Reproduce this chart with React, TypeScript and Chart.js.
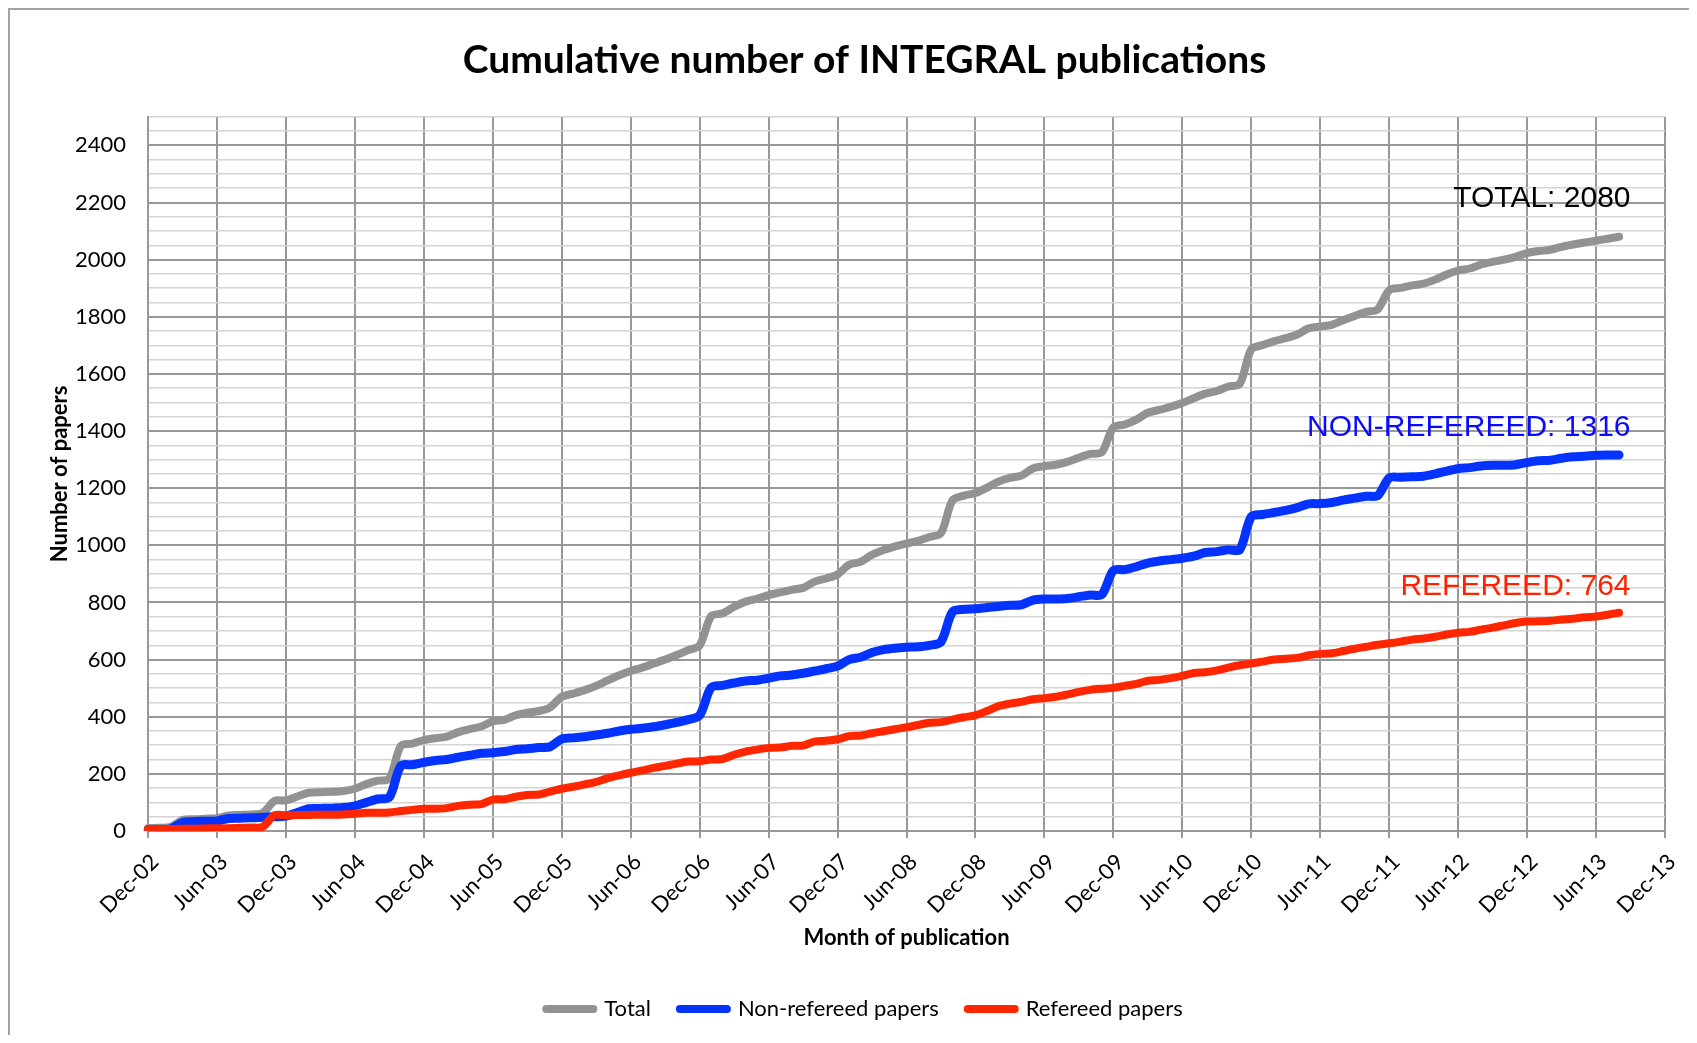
import { useEffect, useRef } from "react";
import { Chart, registerables } from "chart.js";

Chart.register(...registerables);

// Monthly categories, Dec-02 .. Dec-13
const MONTHS = [
  "Dec-02",
  "Jan-03", "Feb-03", "Mar-03", "Apr-03", "May-03", "Jun-03", "Jul-03", "Aug-03", "Sep-03", "Oct-03", "Nov-03", "Dec-03",
  "Jan-04", "Feb-04", "Mar-04", "Apr-04", "May-04", "Jun-04", "Jul-04", "Aug-04", "Sep-04", "Oct-04", "Nov-04", "Dec-04",
  "Jan-05", "Feb-05", "Mar-05", "Apr-05", "May-05", "Jun-05", "Jul-05", "Aug-05", "Sep-05", "Oct-05", "Nov-05", "Dec-05",
  "Jan-06", "Feb-06", "Mar-06", "Apr-06", "May-06", "Jun-06", "Jul-06", "Aug-06", "Sep-06", "Oct-06", "Nov-06", "Dec-06",
  "Jan-07", "Feb-07", "Mar-07", "Apr-07", "May-07", "Jun-07", "Jul-07", "Aug-07", "Sep-07", "Oct-07", "Nov-07", "Dec-07",
  "Jan-08", "Feb-08", "Mar-08", "Apr-08", "May-08", "Jun-08", "Jul-08", "Aug-08", "Sep-08", "Oct-08", "Nov-08", "Dec-08",
  "Jan-09", "Feb-09", "Mar-09", "Apr-09", "May-09", "Jun-09", "Jul-09", "Aug-09", "Sep-09", "Oct-09", "Nov-09", "Dec-09",
  "Jan-10", "Feb-10", "Mar-10", "Apr-10", "May-10", "Jun-10", "Jul-10", "Aug-10", "Sep-10", "Oct-10", "Nov-10", "Dec-10",
  "Jan-11", "Feb-11", "Mar-11", "Apr-11", "May-11", "Jun-11", "Jul-11", "Aug-11", "Sep-11", "Oct-11", "Nov-11", "Dec-11",
  "Jan-12", "Feb-12", "Mar-12", "Apr-12", "May-12", "Jun-12", "Jul-12", "Aug-12", "Sep-12", "Oct-12", "Nov-12", "Dec-12",
  "Jan-13", "Feb-13", "Mar-13", "Apr-13", "May-13", "Jun-13", "Jul-13", "Aug-13", "Sep-13", "Oct-13", "Nov-13", "Dec-13",
];

const SERIES_NAMES = ["Total", "Non-refereed papers", "Refereed papers"];

const TOTAL = [
  10, 11, 15, 38, 41, 43, 45, 54, 56, 58, 63, 105,
  107, 121, 134, 136, 137, 140, 148, 164, 176, 183, 298, 306,
  318, 325, 330, 346, 357, 366, 384, 389, 405, 414, 420, 433,
  470, 481, 493, 508, 527, 545, 560, 572, 586, 600, 616, 633,
  649, 752, 762, 785, 803, 813, 826, 835, 844, 851, 873, 884,
  898, 932, 942, 967, 984, 996, 1006, 1016, 1029, 1043, 1157, 1174,
  1183, 1202, 1223, 1236, 1244, 1269, 1277, 1282, 1292, 1307, 1320, 1326,
  1413, 1423, 1440, 1464, 1474, 1485, 1498, 1515, 1531, 1540, 1556, 1565,
  1686, 1701, 1715, 1725, 1738, 1760, 1766, 1772, 1788, 1803, 1817, 1826,
  1893, 1901, 1910, 1916, 1930, 1948, 1962, 1969, 1983, 1992, 2000, 2010,
  2023, 2030, 2034, 2045, 2053, 2060, 2066, 2073, 2080,
];

const NON_REFEREED = [
  4, 5, 8, 30, 33, 34, 35, 44, 45, 46, 48, 50,
  52, 65, 78, 79, 80, 82, 88, 100, 112, 118, 228, 232,
  240, 247, 250, 258, 265, 272, 274, 278, 285, 288, 292, 295,
  322, 326, 330, 336, 342, 350, 356, 360, 365, 372, 380, 390,
  405, 502, 510, 518, 525, 528, 535, 543, 546, 552, 560, 568,
  577, 600, 608, 625, 635, 640, 643, 645, 650, 662, 767, 776,
  778, 782, 786, 790, 792, 808, 812, 812, 814, 820, 826, 828,
  912, 915, 925, 938, 945, 950, 955, 962, 975, 978, 984, 985,
  1100, 1108, 1115, 1122, 1132, 1145, 1146, 1150, 1158, 1165, 1172, 1174,
  1236, 1238, 1240, 1242, 1250, 1260, 1268, 1272, 1278, 1280, 1280, 1282,
  1290, 1296, 1298, 1305, 1310, 1312, 1315, 1316, 1316,
];

const REFEREED = [
  6, 6, 7, 8, 8, 9, 10, 10, 11, 12, 15, 55,
  55, 56, 56, 57, 57, 58, 60, 64, 64, 65, 70, 74,
  78, 78, 80, 88, 92, 94, 110, 111, 120, 126, 128, 138,
  148, 155, 163, 172, 185, 195, 204, 212, 221, 228, 236, 243,
  244, 250, 252, 267, 278, 285, 291, 292, 298, 299, 313, 316,
  321, 332, 334, 342, 349, 356, 363, 371, 379, 381, 390, 398,
  405, 420, 437, 446, 452, 461, 465, 470, 478, 487, 494, 498,
  501, 508, 515, 526, 529, 535, 543, 553, 556, 562, 572, 580,
  586, 593, 600, 603, 606, 615, 620, 622, 630, 638, 645, 652,
  657, 663, 670, 674, 680, 688, 694, 697, 705, 712, 720, 728,
  733, 734, 736, 740, 743, 748, 751, 757, 764,
];

const Y_LABEL_VALUES = [0, 200, 400, 600, 800, 1000, 1200, 1400, 1600, 1800, 2000, 2200, 2400];

// End-of-series text labels, anchored in data units (month, value of baseline)
const END_LABELS = [
  { text: "TOTAL: 2080", color: "#000000", month: "Sep-13", value: 2186 },
  { text: "NON-REFEREED: 1316", color: "#0a0aff", month: "Sep-13", value: 1381 },
  { text: "REFEREED: 764", color: "#ff2200", month: "Sep-13", value: 826 },
];

const COLORS = ["#929292", "#0433ff", "#ff2600"];
const WIDTHS = [8, 9, 8];

export default function App() {
  const ref = useRef<HTMLCanvasElement>(null);

  useEffect(() => {
    const canvas = ref.current;
    if (!canvas) return;
    const DARK = "rgb(152,152,152)";
    const LIGHT = "rgb(212,212,212)";
    const FONT = "Lato, 'Open Sans', sans-serif";

    const endLabels = {
      id: "endLabels",
      afterDatasetsDraw(chart: any) {
        const { ctx, scales } = chart;
        const x = scales.x;
        const y = scales.y;
        ctx.save();
        ctx.font = "30px 'Liberation Sans', Arial, sans-serif";
        ctx.textAlign = "right";
        ctx.textBaseline = "alphabetic";
        for (const a of END_LABELS) {
          ctx.fillStyle = a.color;
          ctx.fillText(a.text, x.getPixelForValue(MONTHS.indexOf(a.month)), y.getPixelForValue(a.value));
        }
        ctx.restore();
      },
    };

    const seriesData = [TOTAL, NON_REFEREED, REFEREED];
    const datasets = SERIES_NAMES.map((name, i) => ({
      label: name,
      data: seriesData[i],
      borderColor: COLORS[i],
      backgroundColor: COLORS[i],
      borderWidth: WIDTHS[i],
      borderCapStyle: "round" as const,
      borderJoinStyle: "round" as const,
      pointRadius: 0,
      pointHoverRadius: 0,
      tension: 0.3,
      fill: false,
      order: 3 - i,
    }));

    const chart = new Chart(canvas, {
      type: "line",
      data: { labels: MONTHS, datasets },
      options: {
        responsive: false,
        animation: false,
        devicePixelRatio: 1,
        layout: { padding: { left: 54, right: 24, top: 0, bottom: 5 } },
        plugins: {
          tooltip: { enabled: false },
          title: {
            display: true,
            text: "Cumulative number of INTEGRAL publications",
            color: "#000",
            font: { family: FONT, size: 39, weight: "bold" },
            padding: { top: 27, bottom: 33 },
          },
          legend: {
            position: "bottom",
            labels: {
              usePointStyle: true,
              pointStyle: "line",
              pointStyleWidth: 47,
              padding: 29,
              color: "#000",
              font: { family: FONT, size: 22 },
              sort: (a: any, b: any) => a.datasetIndex - b.datasetIndex,
              generateLabels: (ch: any) => {
                const items = (Chart.defaults.plugins.legend.labels as any).generateLabels(ch);
                return items.map((it: any) => ({
                  ...it,
                  lineCap: "round",
                  lineWidth: 8,
                  strokeStyle: COLORS[it.datasetIndex],
                  fillStyle: COLORS[it.datasetIndex],
                  pointStyle: "line",
                }));
              },
            },
          },
        },
        scales: {
          x: {
            type: "category",
            offset: false,
            grid: {
              color: (c: any) => (c.index % 6 === 0 ? DARK : "rgba(0,0,0,0)"),
              tickColor: (c: any) => (c.index % 6 === 0 ? DARK : "rgba(0,0,0,0)"),
              lineWidth: 2,
              tickWidth: 2,
              tickLength: 7,
              drawTicks: true,
            },
            border: { display: true, color: DARK, width: 2 },
            ticks: {
              autoSkip: false,
              minRotation: 45,
              maxRotation: 45,
              padding: 11,
              labelOffset: 7,
              color: "#000",
              font: { family: FONT, size: 22 },
              callback: (_v: any, i: number) => (i % 6 === 0 ? MONTHS[i] : ""),
            },
            title: {
              display: true,
              text: "Month of publication",
              color: "#000",
              font: { family: FONT, size: 22, weight: "bold" },
              padding: { top: 0, bottom: 18 },
            },
            afterFit: (scale: any) => {
              scale.height = 138;
              scale.paddingLeft = 0;
              scale.paddingRight = 0;
            },
          },
          y: {
            min: 0,
            max: 2500,
            ticks: {
              stepSize: 50,
              autoSkip: false,
              padding: 22,
              color: "#000",
              font: { family: FONT, size: 22 },
              callback: (v: any) => (Y_LABEL_VALUES.includes(Number(v)) ? String(v) : ""),
            },
            grid: {
              color: (c: any) => (c.tick && Y_LABEL_VALUES.includes(c.tick.value) ? DARK : LIGHT),
              lineWidth: (c: any) => (c.tick && Y_LABEL_VALUES.includes(c.tick.value) ? 2 : 1.6),
              drawTicks: false,
            },
            border: { display: true, color: DARK, width: 2 },
            title: {
              display: true,
              text: "Number of papers",
              color: "#000",
              font: { family: FONT, size: 22, weight: "bold" },
              padding: { top: -17, bottom: 0 },
            },
            afterFit: (scale: any) => {
              scale.width = 84;
            },
          },
        },
      } as any,
      plugins: [endLabels],
    });

    return () => chart.destroy();
  }, []);

  return (
    <div
      style={{
        width: 1679,
        height: 1025,
        borderTop: "2px solid #a3a3a3",
        borderLeft: "2px solid #a3a3a3",
        background: "#fff",
      }}
    >
      <canvas ref={ref} width={1679} height={1025} style={{ display: "block" }} />
    </div>
  );
}
